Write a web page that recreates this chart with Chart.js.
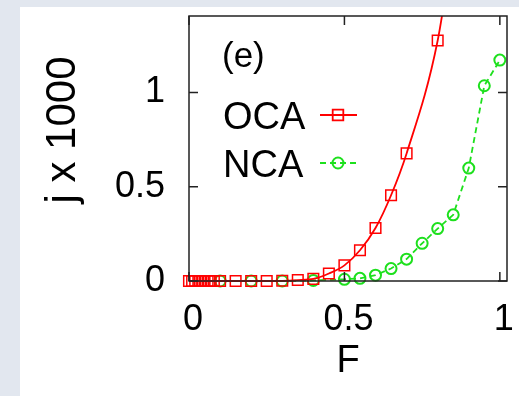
<!DOCTYPE html>
<html>
<head>
<meta charset="utf-8">
<script src="https://cdn.jsdelivr.net/npm/chart.js@4.4.0/dist/chart.umd.min.js"></script>
<style>
html, body { margin: 0; padding: 0; background: #e2e7ef; }
#wrap { position: absolute; left: 20px; top: 7px; width: 499px; height: 389px; background: #fff; }
canvas { display: block; }
</style>
</head>
<body>
<div id="wrap"><canvas id="chart" width="499" height="389"></canvas></div>
<script>
// OCA (red squares, solid line)
var ocaF = [0, 0.01, 0.02, 0.03, 0.04, 0.05, 0.06, 0.07, 0.08, 0.1, 0.15, 0.2, 0.25, 0.3, 0.35, 0.4, 0.45, 0.5, 0.55, 0.6, 0.65, 0.7, 0.8, 0.85];
var ocaJ = [0, 0, 0, 0, 0, 0, 0, 0, 0, 0, 0, 0, 0, 0.001, 0.005, 0.011, 0.04, 0.083, 0.163, 0.281, 0.455, 0.677, 1.276, 1.8];
// NCA (green circles, dashed line)
var ncaF = [0.1, 0.2, 0.3, 0.4, 0.5, 0.55, 0.6, 0.65, 0.7, 0.75, 0.8, 0.85, 0.9, 0.95, 1.0];
var ncaJ = [0, 0, 0, 0.003, 0.009, 0.014, 0.031, 0.066, 0.116, 0.2, 0.278, 0.351, 0.599, 1.036, 1.172];

var xTicks = [0, 0.5, 1];
var xTickLabels = ['0', '0.5', '1'];
var yTicks = [0, 0.5, 1];
var yTickLabels = ['0', '0.5', '1'];

var red = '#ff0000';
var green = '#1de01d';
var FONT = "'Liberation Sans', Arial, Helvetica, sans-serif";
Chart.defaults.font.family = FONT;
Chart.defaults.color = '#000';

function pts(xs, ys) {
	return xs.map(function(x, i) { return {x: x, y: ys[i]}; });
}

// frame with inward ticks, y title, key and panel label
var decor = {
	id: 'decor',
	afterDatasetsDraw: function(chart) {
		var ctx = chart.ctx, a = chart.chartArea;
		var xs = chart.scales.x, ys = chart.scales.y;
		ctx.save();
		ctx.strokeStyle = '#222';
		ctx.lineWidth = 1.5;
		ctx.strokeRect(a.left, a.top, a.right - a.left, a.bottom - a.top);
		ctx.beginPath();
		xTicks.forEach(function(v) {
			var px = xs.getPixelForValue(v);
			ctx.moveTo(px, a.bottom); ctx.lineTo(px, a.bottom - 9);
			ctx.moveTo(px, a.top); ctx.lineTo(px, a.top + 9);
		});
		yTicks.forEach(function(v) {
			var py = ys.getPixelForValue(v);
			ctx.moveTo(a.left, py); ctx.lineTo(a.left + 9, py);
			ctx.moveTo(a.right, py); ctx.lineTo(a.right - 9, py);
		});
		ctx.stroke();

		ctx.fillStyle = '#000';
		// y axis title
		ctx.save();
		ctx.translate(43, 123);
		ctx.rotate(-Math.PI / 2);
		ctx.font = '42px ' + FONT;
		ctx.textAlign = 'center';
		ctx.textBaseline = 'middle';
		ctx.fillText('j x 1000', 0, 0);
		ctx.restore();

		ctx.textAlign = 'left';
		ctx.textBaseline = 'alphabetic';
		ctx.font = '35px ' + FONT;
		ctx.fillText('(e)', 202, 60);
		ctx.font = '38px ' + FONT;
		ctx.fillText('OCA', 203, 122);
		ctx.fillText('NCA', 203, 170);

		// key samples
		ctx.fillStyle = 'rgba(0,0,0,0)';
		ctx.lineWidth = 1.8;
		ctx.strokeStyle = red;
		ctx.beginPath(); ctx.moveTo(300, 108); ctx.lineTo(337, 108); ctx.stroke();
		Chart.helpers.drawPoint(ctx, {pointStyle: 'rect', radius: 7.5, borderWidth: 1.5}, 318, 108);
		ctx.strokeStyle = green;
		ctx.setLineDash([6, 4]);
		ctx.beginPath(); ctx.moveTo(300, 156); ctx.lineTo(337, 156); ctx.stroke();
		ctx.setLineDash([]);
		ctx.lineWidth = 2;
		Chart.helpers.drawPoint(ctx, {pointStyle: 'circle', radius: 5.5, borderWidth: 2}, 318, 156);
		ctx.restore();
	}
};

new Chart(document.getElementById('chart'), {
	type: 'line',
	data: {
		datasets: [
			{
				label: 'OCA',
				data: pts(ocaF, ocaJ),
				borderColor: red,
				borderWidth: 1.8,
				pointStyle: 'rect',
				pointRadius: 7.5,
				pointBorderWidth: 1.5,
				pointBorderColor: red,
				pointBackgroundColor: 'rgba(0,0,0,0)',
				cubicInterpolationMode: 'monotone',
				clip: {left: 12, top: 0, right: 12, bottom: 12}
			},
			{
				label: 'NCA',
				data: pts(ncaF, ncaJ),
				borderColor: green,
				borderWidth: 1.8,
				borderDash: [6, 4],
				pointStyle: 'circle',
				pointRadius: 5.5,
				pointBorderWidth: 2,
				pointBorderColor: green,
				pointBackgroundColor: 'rgba(0,0,0,0)',
				tension: 0,
				clip: 12
			}
		]
	},
	options: {
		responsive: false,
		animation: false,
		layout: { padding: { left: 0, top: 3, right: 12, bottom: 12 } },
		plugins: { legend: { display: false }, tooltip: { enabled: false } },
		scales: {
			x: {
				type: 'linear',
				min: 0,
				max: 1.023,
				border: { display: false },
				grid: { display: false, drawTicks: false },
				afterBuildTicks: function(s) { s.ticks = xTicks.map(function(v) { return {value: v}; }); },
				afterFit: function(s) {
					s.height = 103;
					s.paddingLeft = 0; s.paddingRight = 0;
				},
				ticks: {
					padding: 17,
					labelOffset: 4,
					font: { size: 36 },
					maxRotation: 0,
					autoSkip: false,
					callback: function(v, i) { return xTickLabels[i]; }
				},
				title: { display: true, text: 'F', font: { size: 38 }, padding: 0 }
			},
			y: {
				type: 'linear',
				min: 0,
				max: 1.406,
				border: { display: false },
				grid: { display: false, drawTicks: false },
				afterBuildTicks: function(s) { s.ticks = yTicks.map(function(v) { return {value: v}; }); },
				afterFit: function(s) {
					s.width = 169;
					s.paddingTop = 0; s.paddingBottom = 0;
				},
				ticks: {
					padding: 24,
					font: { size: 36 },
					autoSkip: false,
					callback: function(v, i) { return yTickLabels[i]; }
				}
			}
		}
	},
	plugins: [decor]
});
</script>
</body>
</html>
